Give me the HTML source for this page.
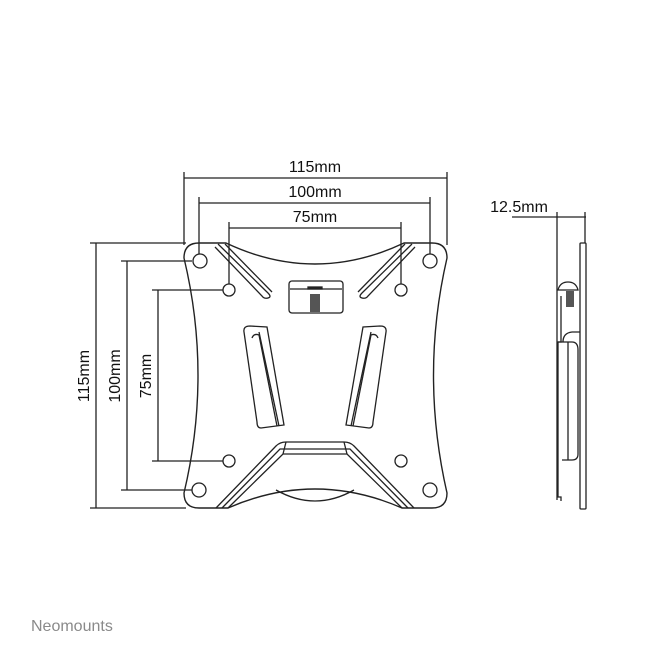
<!DOCTYPE html>
<html><head><style>
html,body{margin:0;padding:0;background:#fff;}
svg{display:block}
text{font-family:"Liberation Sans",sans-serif;fill:#111}
</style></head><body>
<svg width="662" height="662" viewBox="0 0 662 662" xmlns="http://www.w3.org/2000/svg">
<g stroke="#222" stroke-width="1.3" fill="none">
<line x1="184" y1="172" x2="184" y2="245"/><line x1="447" y1="172" x2="447" y2="245"/>
<line x1="184" y1="178" x2="447" y2="178"/>
<line x1="199" y1="197" x2="199" y2="254"/><line x1="430" y1="197" x2="430" y2="254"/>
<line x1="199" y1="203" x2="430" y2="203"/>
<line x1="229" y1="222" x2="229" y2="284"/><line x1="401" y1="222" x2="401" y2="284"/>
<line x1="229" y1="228" x2="401" y2="228"/>
<line x1="90" y1="243" x2="186" y2="243"/><line x1="90" y1="508" x2="186" y2="508"/>
<line x1="96" y1="243" x2="96" y2="508"/>
<line x1="121" y1="261" x2="192" y2="261"/><line x1="121" y1="490" x2="192" y2="490"/>
<line x1="127" y1="261" x2="127" y2="490"/>
<line x1="152" y1="290" x2="223" y2="290"/><line x1="152" y1="461" x2="223" y2="461"/>
<line x1="158" y1="290" x2="158" y2="461"/>
<path d="M199,243 L226,243 Q315,285 404,243 L432,243 Q447,243 447,258 Q420,375 447,493 Q447,508 432,508 L402,508 Q315,470 228,508 L199,508 Q184,508 184,493 Q212,375 184,258 Q184,243 199,243 Z" stroke-width="1.4"/>
<circle cx="200" cy="261" r="7"/><circle cx="430" cy="261" r="7"/>
<circle cx="199" cy="490" r="7"/><circle cx="430" cy="490" r="7"/>
<circle cx="229" cy="290" r="6"/><circle cx="401" cy="290" r="6"/>
<circle cx="229" cy="461" r="6"/><circle cx="401" cy="461" r="6"/>
<path d="M218,244 L268,293 Q272,297 268,298 Q264,299 262,296 L215,247"/>
<path d="M225,244 L272,292"/>
<path d="M412,244 L362,293 Q358,297 362,298 Q366,299 368,296 L415,247"/>
<path d="M405,244 L358,292"/>
<rect x="289" y="281" width="54" height="32" rx="3"/>
<line x1="290" y1="289" x2="342" y2="289"/>
<rect x="308" y="287" width="14" height="2" fill="#222"/>
<rect x="310" y="294" width="10" height="18" fill="#555" stroke="none"/>
<path d="M244,332 Q243,326 250,326 L267,327 L284,425 L261,428 Q257,428 257,422 Z"/>
<path d="M252,338 Q254,333 259,335 L277,426"/><path d="M259,332 L279,426"/>
<path d="M386,332 Q387,326 380,326 L363,327 L346,425 L369,428 Q373,428 373,422 Z"/>
<path d="M378,338 Q376,333 371,335 L353,426"/><path d="M371,332 L351,426"/>
<path d="M216,508 L276,446 Q280,442 286,442 L344,442 Q350,442 354,446 L414,508"/>
<path d="M222,508 L280,449 L350,449 L408,508"/>
<path d="M228,508 L283,454 L347,454 L402,508"/>
<line x1="286" y1="442" x2="283" y2="454"/><line x1="344" y1="442" x2="347" y2="454"/>
<path d="M276,490 Q315,512 354,490"/>
<line x1="512" y1="217" x2="586" y2="217"/>
<line x1="557" y1="212" x2="557" y2="252"/><line x1="585" y1="212" x2="585" y2="243"/>
<rect x="580" y="243" width="6" height="266" rx="1"/>
<path d="M558,290 Q560,282 568,282 Q576,282 578,290 Z"/>
<rect x="566" y="291" width="8" height="16" fill="#555" stroke="none"/>
<path d="M561,296 L561,342 L558,342 L558,497 L561,497 L561,501"/>
<path d="M557,252 L557,500"/>
<path d="M563,342 Q563,333 572,332 L580,332"/>
<path d="M558,342 L572,342 Q578,342 578,350 L578,454 Q578,460 572,460 L562,460"/>
<path d="M568,342 L568,460"/>
</g>
<text x="315" y="172" font-size="16" text-anchor="middle">115mm</text>
<text x="315" y="197" font-size="16" text-anchor="middle">100mm</text>
<text x="315" y="222" font-size="16" text-anchor="middle">75mm</text>
<text x="519" y="212" font-size="16" text-anchor="middle">12.5mm</text>
<text transform="translate(89,376) rotate(-90)" font-size="16" text-anchor="middle">115mm</text>
<text transform="translate(120,376) rotate(-90)" font-size="16" text-anchor="middle">100mm</text>
<text transform="translate(151,376) rotate(-90)" font-size="16" text-anchor="middle">75mm</text>
<text x="31" y="631" font-size="16" style="fill:#8a8a8a">Neomounts</text>
</svg>
</body></html>
